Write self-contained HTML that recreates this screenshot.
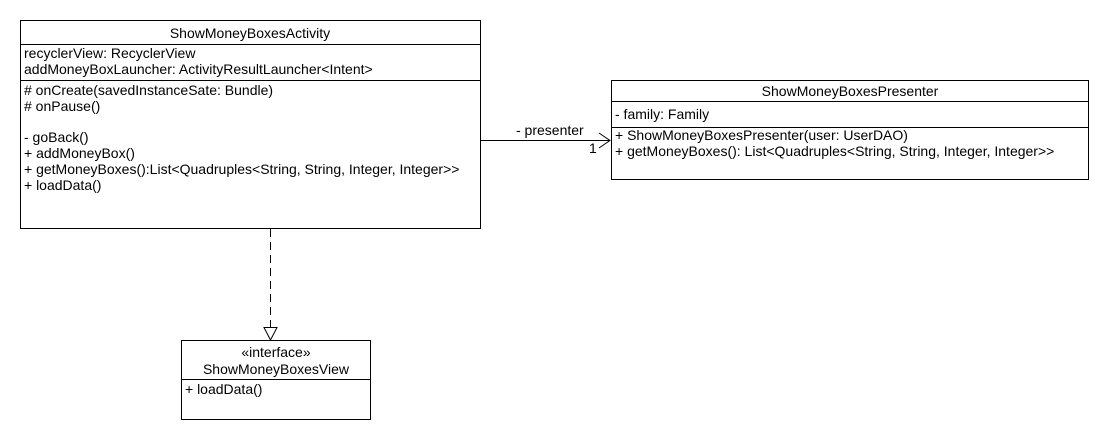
<!DOCTYPE html>
<html><head><meta charset="utf-8"><style>
body{margin:0;background:#fff;}
svg text{font-family:"Liberation Sans",Arial,sans-serif;font-size:14px;fill:#000;}
</style></head><body>
<svg width="1110" height="440" xmlns="http://www.w3.org/2000/svg">
<rect x="0" y="0" width="1110" height="440" fill="#fff"/>
<g fill="none" stroke="#000" stroke-width="1">
<rect x="20.5" y="20.5" width="460" height="208"/>
<line x1="20.5" y1="44.5" x2="480.5" y2="44.5"/>
<line x1="20.5" y1="80.5" x2="480.5" y2="80.5"/>
<rect x="611.5" y="80.5" width="477" height="99"/>
<line x1="611.5" y1="101.5" x2="1088.5" y2="101.5"/>
<line x1="611.5" y1="127.5" x2="1088.5" y2="127.5"/>
<rect x="181.5" y="340.5" width="189" height="79"/>
<line x1="181.5" y1="379.5" x2="370.5" y2="379.5"/>
<line x1="480.5" y1="140.5" x2="610" y2="140.5"/>
<polyline points="599,133 610,140.5 599,148"/>
<line x1="270.5" y1="229" x2="270.5" y2="327" stroke-dasharray="8,5"/>
<polygon points="264,327.5 277,327.5 270.5,340"/>
</g>
<text x="250" y="38" text-anchor="middle">ShowMoneyBoxesActivity</text>
<text x="24" y="58">recyclerView: RecyclerView</text>
<text x="24" y="74">addMoneyBoxLauncher: ActivityResultLauncher&lt;Intent&gt;</text>
<text x="24" y="95"># onCreate(savedInstanceSate: Bundle)</text>
<text x="24" y="111"># onPause()</text>
<text x="24" y="142">- goBack()</text>
<text x="24" y="158">+ addMoneyBox()</text>
<text x="24" y="174">+ getMoneyBoxes():List&lt;Quadruples&lt;String, String, Integer, Integer&gt;&gt;</text>
<text x="24" y="190">+ loadData()</text>
<text x="850" y="96" text-anchor="middle">ShowMoneyBoxesPresenter</text>
<text x="615" y="119">- family: Family</text>
<text x="615" y="140">+ ShowMoneyBoxesPresenter(user: UserDAO)</text>
<text x="615" y="156">+ getMoneyBoxes(): List&lt;Quadruples&lt;String, String, Integer, Integer&gt;&gt;</text>
<text x="516" y="135">- presenter</text>
<text x="589" y="153">1</text>
<text x="276" y="357" text-anchor="middle">«interface»</text>
<text x="276" y="374" text-anchor="middle">ShowMoneyBoxesView</text>
<text x="185" y="394">+ loadData()</text>
</svg>
</body></html>
